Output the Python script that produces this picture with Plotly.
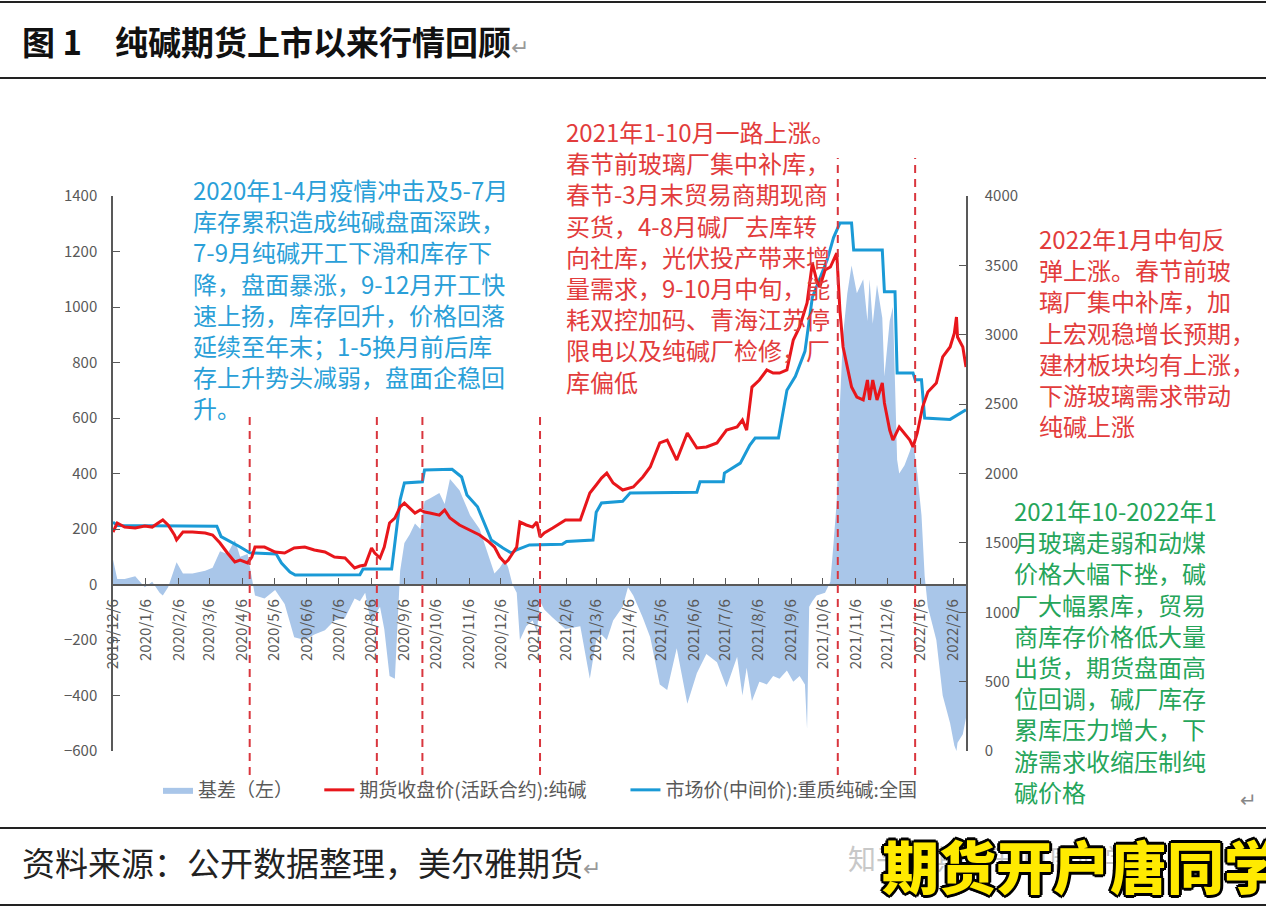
import plotly.graph_objects as go

# ---------------- data ----------------
fut_dates = ['2019-12-06','2019-12-10','2019-12-17','2019-12-27','2020-01-05','2020-01-12','2020-01-19','2020-01-22',
             '2020-01-27','2020-02-02','2020-02-04','2020-02-10','2020-02-19','2020-03-02','2020-03-09','2020-03-16',
             '2020-03-23','2020-03-30','2020-04-04','2020-04-11','2020-04-15','2020-04-18','2020-04-27','2020-05-07',
             '2020-05-16','2020-05-25','2020-06-04','2020-06-13','2020-06-23','2020-07-02','2020-07-12','2020-07-21',
             '2020-07-26','2020-07-31','2020-08-06','2020-08-09','2020-08-14','2020-08-18','2020-08-23','2020-08-28',
             '2020-09-02','2020-09-06','2020-09-11','2020-09-16','2020-09-21','2020-09-25','2020-09-30','2020-10-09',
             '2020-10-14','2020-10-19','2020-10-28','2020-11-07','2020-11-16','2020-11-25','2020-11-30','2020-12-05',
             '2020-12-10','2020-12-13','2020-12-17','2020-12-21','2020-12-24','2020-12-30','2021-01-05','2021-01-09',
             '2021-01-12','2021-01-16','2021-01-24','2021-02-05','2021-02-19','2021-02-28','2021-03-06','2021-03-11',
             '2021-03-16','2021-03-22','2021-03-31','2021-04-10','2021-04-19','2021-04-26','2021-05-05','2021-05-12',
             '2021-05-21','2021-05-31','2021-06-09','2021-06-18','2021-06-28','2021-07-07','2021-07-17','2021-07-22',
             '2021-07-26','2021-07-31','2021-08-07','2021-08-14','2021-08-20','2021-08-26','2021-09-02','2021-09-08',
             '2021-09-14','2021-09-21','2021-09-26','2021-09-30','2021-10-03','2021-10-08','2021-10-13','2021-10-19',
             '2021-10-22','2021-10-25','2021-10-29','2021-11-02','2021-11-07','2021-11-13','2021-11-17','2021-11-19',
             '2021-11-22','2021-11-26','2021-12-01','2021-12-03','2021-12-08','2021-12-11','2021-12-17','2021-12-22',
             '2021-12-27','2021-12-30','2022-01-03','2022-01-08','2022-01-13','2022-01-21','2022-01-27','2022-02-03',
             '2022-02-07','2022-02-09','2022-02-10','2022-02-15','2022-02-18']
fut_vals = [1578,1643,1614,1607,1622,1614,1650,1665,
            1629,1557,1521,1578,1578,1571,1557,1499,
            1427,1362,1376,1355,1398,1470,1470,1434,
            1427,1463,1470,1449,1434,1398,1391,1319,
            1333,1340,1463,1427,1391,1470,1643,1679,
            1759,1787,1751,1715,1737,1722,1715,1700,
            1737,1679,1629,1593,1557,1506,1470,1398,
            1355,1376,1427,1470,1650,1629,1614,1650,
            1542,1571,1607,1665,1665,1859,1917,1967,
            2003,1931,1881,1903,1975,2047,2220,2241,
            2097,2292,2184,2191,2220,2313,2335,2385,
            2313,2623,2674,2746,2724,2724,2746,2962,
            3056,3229,3517,3394,3344,3467,3488,3589,
            3178,2912,2767,2623,2551,2530,2674,2530,
            2674,2530,2652,2508,2313,2241,2335,2292,
            2241,2191,2292,2479,2587,2652,2840,2912,
            3012,3128,2984,2912,2767]

spot_dates = ['2019-12-06','2019-12-10','2020-03-13','2020-03-17','2020-04-04','2020-04-13','2020-05-08','2020-05-13',
              '2020-05-21','2020-05-26','2020-07-26','2020-07-29','2020-08-25','2020-09-02','2020-09-06','2020-09-23',
              '2020-09-25','2020-10-21','2020-10-30','2020-11-04','2020-11-14','2020-11-21','2020-11-27','2020-12-08',
              '2020-12-16','2020-12-21','2021-01-02','2021-02-02','2021-02-06','2021-03-03','2021-03-06','2021-03-11',
              '2021-03-31','2021-04-07','2021-06-09','2021-06-12','2021-07-04','2021-07-05','2021-07-20','2021-07-29',
              '2021-08-03','2021-08-25','2021-08-28','2021-09-02','2021-09-10','2021-09-19','2021-09-26','2021-10-10',
              '2021-10-16','2021-10-22','2021-11-02','2021-11-04','2021-12-01','2021-12-03','2021-12-13','2021-12-15',
              '2021-12-30','2022-01-01','2022-01-07','2022-01-10','2022-02-03','2022-02-07','2022-02-18']
spot_vals = [1650,1625,1620,1545,1470,1428,1420,1355,
             1290,1268,1270,1312,1312,1810,1932,1940,
             2025,2030,1975,1845,1760,1630,1520,1463,
             1427,1450,1485,1490,1510,1520,1720,1787,
             1800,1860,1865,1940,1940,2003,2075,2205,
             2256,2256,2385,2600,2700,2880,3270,3540,
             3700,3805,3805,3610,3610,3310,3310,2725,
             2725,2675,2675,2400,2390,2410,2460]

basis_dates = ['2019-12-06','2019-12-10','2019-12-17','2019-12-27','2020-01-05','2020-01-12','2020-01-19','2020-01-22',
               '2020-01-27','2020-02-02','2020-02-04','2020-02-10','2020-02-19','2020-03-02','2020-03-09','2020-03-16',
               '2020-03-23','2020-03-30','2020-04-04','2020-04-11','2020-04-15','2020-04-18','2020-04-27','2020-05-07',
               '2020-05-16','2020-05-25','2020-06-04','2020-06-13','2020-06-23','2020-07-02','2020-07-12','2020-07-21',
               '2020-07-26','2020-07-31','2020-08-06','2020-08-09','2020-08-14','2020-08-18','2020-08-23','2020-08-28',
               '2020-09-02','2020-09-06','2020-09-11','2020-09-16','2020-09-21','2020-09-25','2020-09-30','2020-10-09',
               '2020-10-14','2020-10-19','2020-10-28','2020-11-07','2020-11-16','2020-11-25','2020-11-30','2020-12-05',
               '2020-12-10','2020-12-13','2020-12-17','2020-12-21','2020-12-24','2020-12-30','2021-01-05','2021-01-09',
               '2021-01-12','2021-01-16','2021-01-24','2021-02-05','2021-02-19','2021-02-28','2021-03-06','2021-03-11',
               '2021-03-16','2021-03-22','2021-03-31','2021-04-05','2021-04-10','2021-04-19','2021-04-26','2021-05-05',
               '2021-05-12','2021-05-21','2021-05-31','2021-06-09','2021-06-18','2021-06-28','2021-07-07','2021-07-17',
               '2021-07-22','2021-07-26','2021-07-31','2021-08-07','2021-08-14','2021-08-20','2021-08-26','2021-09-02',
               '2021-09-08','2021-09-14','2021-09-19','2021-09-21','2021-09-23','2021-09-26','2021-09-30','2021-10-08',
               '2021-10-13','2021-10-16','2021-10-19','2021-10-22','2021-10-25','2021-10-29','2021-11-02','2021-11-07',
               '2021-11-13','2021-11-17','2021-11-19','2021-11-22','2021-11-26','2021-12-01','2021-12-03','2021-12-08',
               '2021-12-11','2021-12-15','2021-12-17','2021-12-22','2021-12-27','2021-12-30','2022-01-03','2022-01-07',
               '2022-01-10','2022-01-13','2022-01-21','2022-01-27','2022-02-03','2022-02-07','2022-02-09','2022-02-10',
               '2022-02-15','2022-02-18']
basis_vals = [90,20,20,30,-10,10,-30,-40,
              -10,60,80,40,40,50,60,120,
              110,160,100,110,30,-40,-50,-20,
              -70,-190,-200,-180,-165,-130,-120,-50,
              -60,-30,-150,-110,-80,-160,-330,-340,
              50,150,180,220,200,300,310,330,
              290,380,340,250,200,100,40,60,
              90,60,0,-30,-200,-150,-130,-170,
              -60,-90,-120,-160,-150,-340,-200,-180,
              -200,-130,-80,-10,-40,-120,-190,-360,
              -380,-230,-430,-320,-250,-280,-370,-260,
              -400,-300,-420,-350,-360,-330,-340,-310,
              -350,-330,-360,-520,-80,-60,-40,-30,
              10,150,300,650,900,1050,1150,1050,
              1100,950,1100,940,1080,960,750,950,
              1000,450,400,430,480,520,400,250,
              30,-80,-200,-400,-500,-580,-600,-570,
              -540,-480]

tick_dates = ['2019-12-06','2020-01-06','2020-02-06','2020-03-06','2020-04-06','2020-05-06','2020-06-06',
              '2020-07-06','2020-08-06','2020-09-06','2020-10-06','2020-11-06','2020-12-06','2021-01-06',
              '2021-02-06','2021-03-06','2021-04-06','2021-05-06','2021-06-06','2021-07-06','2021-08-06',
              '2021-09-06','2021-10-06','2021-11-06','2021-12-06','2022-01-06','2022-02-06']
tick_labels = ['2019/12/6','2020/1/6','2020/2/6','2020/3/6','2020/4/6','2020/5/6','2020/6/6',
               '2020/7/6','2020/8/6','2020/9/6','2020/10/6','2020/11/6','2020/12/6','2021/1/6',
               '2021/2/6','2021/3/6','2021/4/6','2021/5/6','2021/6/6','2021/7/6','2021/8/6',
               '2021/9/6','2021/10/6','2021/11/6','2021/12/6','2022/1/6','2022/2/6']

event_dates_short = ['2020-04-13','2020-08-11','2020-09-23','2021-01-12']
event_dates_tall = ['2021-10-20','2022-01-01']

# ---------------- layout geometry ----------------
W, H = 1266, 912
L, R, T, B = 113, 966, 196, 751
def px_x(p):
    return (p - L) / (R - L)
def px_y(p):
    return (B - p) / (B - T)

LEFT_MIN, LEFT_MAX = -600, 1400
RIGHT_MIN, RIGHT_MAX = 0, 4000
CJK = 'Noto Sans CJK SC'
GRAY = '#595959'
NB = '\u00a0'

fig = go.Figure()
fig.add_trace(go.Scatter(x=basis_dates, y=basis_vals, name='基差（左）' + NB * 5, mode='lines',
                         line=dict(width=0, color='#a9c6e9'), fill='tozeroy', fillcolor='#a9c6e9',
                         yaxis='y', legendrank=1))
fig.add_trace(go.Scatter(x=spot_dates, y=spot_vals, name='市场价(中间价):重质纯碱:全国', mode='lines',
                         line=dict(width=3, color='#1a9ad6'), yaxis='y2', legendrank=3))
fig.add_trace(go.Scatter(x=fut_dates, y=fut_vals, name='期货收盘价(活跃合约):纯碱' + NB * 8, mode='lines',
                         line=dict(width=3, color='#e8161b'), yaxis='y2', legendrank=2))

shapes = []
for d in event_dates_short:
    shapes.append(dict(type='line', xref='x', yref='paper', x0=d, x1=d, y0=px_y(775), y1=px_y(415),
                       line=dict(color='#d9363e', width=2, dash='8px,6px'), layer='above'))
for d in event_dates_tall:
    shapes.append(dict(type='line', xref='x', yref='paper', x0=d, x1=d, y0=px_y(775), y1=px_y(158),
                       line=dict(color='#d9363e', width=2, dash='8px,6px'), layer='above'))
for yy in (2, 78, 828, 905):
    shapes.append(dict(type='line', xref='paper', yref='paper', x0=px_x(0), x1=px_x(W), y0=px_y(yy), y1=px_y(yy),
                       line=dict(color='#222222', width=2)))

def block(lines, x, ytop, color, size=24):
    return dict(text='<br>'.join(lines), xref='paper', yref='paper', x=px_x(x), y=px_y(ytop),
                xanchor='left', yanchor='top', align='left', showarrow=False, borderpad=0,
                font=dict(family=CJK, size=size, color=color))

blue_text = ['2020年1-4月疫情冲击及5-7月', '库存累积造成纯碱盘面深跌，', '7-9月纯碱开工下滑和库存下',
             '降，盘面暴涨，9-12月开工快', '速上扬，库存回升，价格回落', '延续至年末；1-5换月前后库',
             '存上升势头减弱，盘面企稳回', '升。']
red_text = ['2021年1-10月一路上涨。', '春节前玻璃厂集中补库，', '春节-3月末贸易商期现商', '买货，4-8月碱厂去库转',
            '向社库，光伏投产带来增', '量需求，9-10月中旬，能', '耗双控加码、青海江苏停', '限电以及纯碱厂检修，厂',
            '库偏低']
red2_text = ['2022年1月中旬反', '弹上涨。春节前玻', '璃厂集中补库，加', '上宏观稳增长预期，',
             '建材板块均有上涨，', '下游玻璃需求带动', '纯碱上涨']
green_text = ['2021年10-2022年1', '月玻璃走弱和动煤', '价格大幅下挫，碱', '厂大幅累库，贸易',
              '商库存价格低大量', '出货，期货盘面高', '位回调，碱厂库存', '累库压力增大，下',
              '游需求收缩压制纯', '碱价格']

annotations = [
    block(blue_text, 192, 171, '#2a9fd8'),
    block(red_text, 565, 113, '#e23c3c'),
    block(red2_text, 1038, 220, '#e23c3c'),
    block(green_text, 1013, 492, '#25a55a'),
    dict(text='图 1\u3000纯碱期货上市以来行情回顾<span style="color:#999999;font-weight:400;font-size:22px">↵</span>',
         xref='paper', yref='paper', x=px_x(20), y=px_y(41), xanchor='left', yanchor='middle',
         showarrow=False, font=dict(family=CJK, size=33, color='#111111', weight=700)),
    dict(text='资料来源：公开数据整理，美尔雅期货<span style="color:#999999;font-size:22px">↵</span>',
         xref='paper', yref='paper', x=px_x(20), y=px_y(862), xanchor='left', yanchor='middle',
         showarrow=False, font=dict(family=CJK, size=33, color='#222222')),
    dict(text='↵', xref='paper', yref='paper', x=px_x(1248), y=px_y(798), xanchor='center', yanchor='middle',
         showarrow=False, font=dict(family=CJK, size=20, color='#888888')),
    dict(text='知乎 @期货开户唐同学', xref='paper', yref='paper', x=px_x(846), y=px_y(858), xanchor='left',
         yanchor='middle', showarrow=False, font=dict(family=CJK, size=28, color='#c8c8c8')),
    dict(text='期货开户唐同学', xref='paper', yref='paper', x=px_x(880), y=px_y(864), xanchor='left',
         yanchor='middle', showarrow=False,
         font=dict(family=CJK, size=57, color='#ffea00', weight=900,
                   shadow='3px 0 0 #000, -3px 0 0 #000, 0 3px 0 #000, 0 -3px 0 #000, '
                          '2px 2px 0 #000, -2px -2px 0 #000, 2px -2px 0 #000, -2px 2px 0 #000')),
]

fig.update_layout(
    width=W, height=H, margin=dict(l=L, r=W - R, t=T, b=H - B),
    paper_bgcolor='white', plot_bgcolor='white', showlegend=True,
    font=dict(family=CJK, color=GRAY),
    xaxis=dict(type='date', range=['2019-12-06', '2022-02-18'], anchor='free',
               position=(0 - LEFT_MIN) / (LEFT_MAX - LEFT_MIN),
               tickmode='array', tickvals=tick_dates, ticktext=tick_labels, tickangle=-90,
               ticks='inside', ticklen=6, tickcolor=GRAY, showline=True, linecolor=GRAY, linewidth=1.5,
               showgrid=False, zeroline=False, tickfont=dict(size=15, color=GRAY, family=CJK),
               ticklabelstandoff=8),
    yaxis=dict(range=[LEFT_MIN, LEFT_MAX], dtick=200, ticks='inside', ticklen=7, tickcolor=GRAY,
               showline=True, linecolor=GRAY, linewidth=1.5, showgrid=False, zeroline=False,
               tickfont=dict(size=15, color=GRAY, family=CJK), ticklabelstandoff=11),
    yaxis2=dict(range=[RIGHT_MIN, RIGHT_MAX], dtick=500, overlaying='y', side='right', ticks='inside',
                ticklen=7, tickcolor=GRAY, showline=True, linecolor=GRAY, linewidth=1.5, showgrid=False,
                zeroline=False, tickfont=dict(size=15, color=GRAY, family=CJK), ticklabelstandoff=14),
    legend=dict(orientation='h', x=px_x(158), y=px_y(790), xanchor='left', yanchor='middle',
                font=dict(size=19, color=GRAY, family=CJK), bgcolor='rgba(0,0,0,0)', itemwidth=30,
                traceorder='normal'),
    shapes=shapes, annotations=annotations,
)

fig.write_html('out.html')
